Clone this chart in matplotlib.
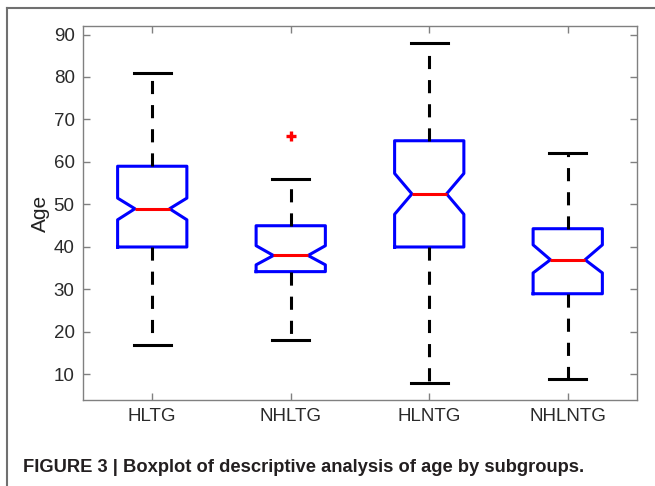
import numpy as np
import matplotlib.pyplot as plt
from matplotlib.lines import Line2D

# Values
groups = ['HLTG', 'NHLTG', 'HLNTG', 'NHLNTG']
medians = [49, 38, 52.5, 37]
q1 = [40, 34.2, 40, 29]
q3 = [59, 45, 65, 44.3]
whisker_low = [17, 18, 8, 9]
whisker_high = [81, 56, 88, 62]
notch_low = [46.4, 35.8, 47.7, 33.9]
notch_high = [51.5, 40.3, 57.3, 40.5]
outliers = [[], [66], [], []]

stats = []
for i in range(len(groups)):
    stats.append({'label': groups[i], 'med': medians[i], 'q1': q1[i], 'q3': q3[i],
                  'whislo': whisker_low[i], 'whishi': whisker_high[i],
                  'cilo': notch_low[i], 'cihi': notch_high[i], 'fliers': outliers[i]})

plt.rcParams['font.family'] = ['Liberation Sans', 'DejaVu Sans']

fig = plt.figure(figsize=(6.55, 4.86), dpi=100)
ax = fig.add_axes([0.1267, 0.177, 0.8458, 0.7695])

ax.bxp(stats, positions=[1, 2, 3, 4], widths=0.5, capwidths=0.27, shownotches=True,
       boxprops=dict(color='#0000ff', linewidth=2.2),
       medianprops=dict(color='#ff0000', linewidth=2.2),
       whiskerprops=dict(color='black', linewidth=2.2, linestyle=(0, (4.3, 3.6))),
       capprops=dict(color='black', linewidth=2.2),
       flierprops=dict(marker='+', markeredgecolor='#ff0000', markersize=7, markeredgewidth=2.4))

ax.set_xlim(0.5, 4.5)
ax.set_ylim(4, 92)
ax.set_yticks(np.arange(10, 91, 10))
ax.set_xticks([1, 2, 3, 4])
ax.set_xticklabels(groups)
ax.set_ylabel('Age', fontsize=15, color='#222222', labelpad=3)

for s in ax.spines.values():
    s.set_color('#808080')
    s.set_linewidth(1.0)
ax.tick_params(direction='in', length=5, width=1, color='#808080', labelcolor='#2a2a2a',
               labelsize=13.5, top=True, right=True, pad=6)

# journal frame and caption
fig.add_artist(Line2D([0.0107, 1.0], [0.984, 0.984], color='#707070', linewidth=1.5))
fig.add_artist(Line2D([0.0107, 0.0107], [0.0, 0.984], color='#707070', linewidth=1.5))
fig.text(0.035, 0.028, 'FIGURE 3 | Boxplot of descriptive analysis of age by subgroups.',
         fontsize=13.2, fontweight='bold', color='#231f20', va='baseline')

fig.savefig('out.png', dpi=100)
